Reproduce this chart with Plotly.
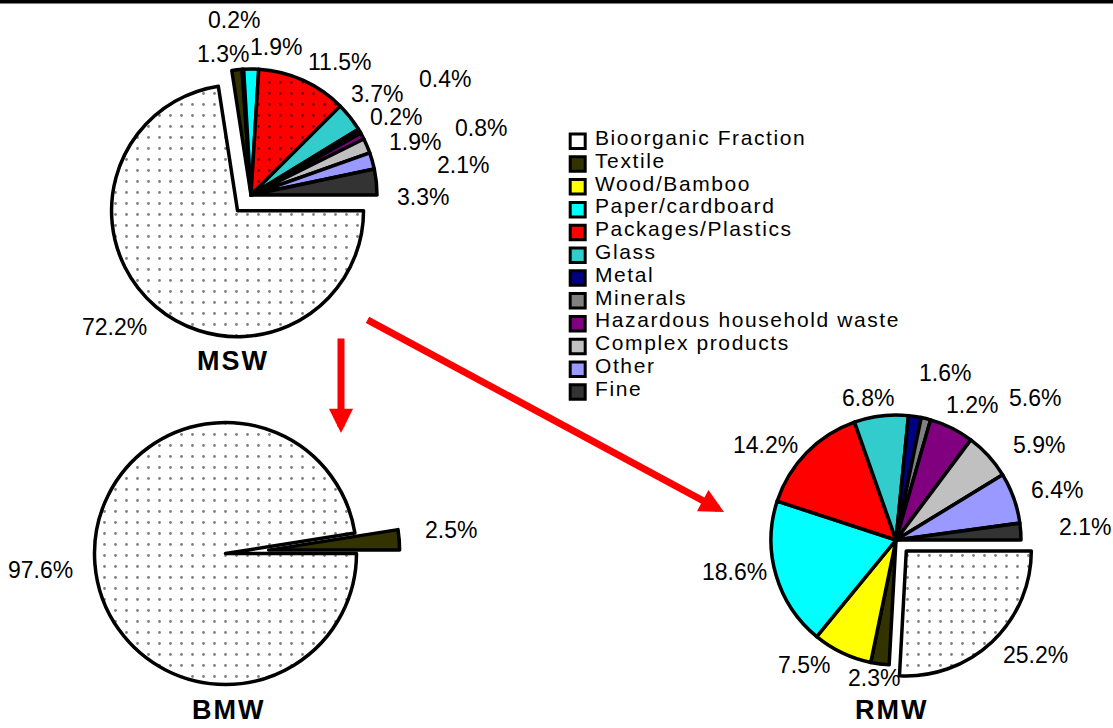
import plotly.graph_objects as go

W, H = 1113, 728

# ---------------- data ----------------
CATEGORIES = [
    "Bioorganic Fraction", "Textile", "Wood/Bamboo", "Paper/cardboard",
    "Packages/Plastics", "Glass", "Metal", "Minerals",
    "Hazardous household waste", "Complex products", "Other", "Fine",
]
MSW_VALUES = [72.2, 1.3, 0.2, 1.9, 11.5, 3.7, 0.4, 0.2, 0.8, 1.9, 2.1, 3.3]
BMW_CATEGORIES = ["Bioorganic Fraction", "Textile"]
BMW_VALUES = [97.6, 2.5]
RMW_VALUES = [25.2, 2.3, 7.5, 18.6, 14.2, 6.8, 1.6, 1.2, 5.6, 5.9, 6.4, 2.1]
PIE_TITLES = ["MSW", "BMW", "RMW"]

# ---------------- styles ----------------
COLORS = ["#FFFFFF", "#333300", "#FFFF00", "#00FFFF", "#FF0000", "#33CCCC",
          "#000080", "#808080", "#800080", "#C0C0C0", "#9999FF", "#333333"]
BMW_COLORS = ["#FFFFFF", "#333300"]
MSW_PATTERN = [".", "", "", "", ".", "", "", "", "", "", "", ""]
RMW_PATTERN = [".", "", "", "", "", "", "", "", "", "", "", ""]
BMW_PATTERN = [".", ""]

# layout (pixels): pie centre, radius, pull
MSW_GEOM = dict(cx=251, cy=195, r=126, pull=0.164)
BMW_GEOM = dict(cx=225.5, cy=553.5, r=131, pull=0.33)
RMW_GEOM = dict(cx=896, cy=540, r=125, pull=0.12)

# percentage label positions (pixels), one per slice
MSW_LABEL_POS = [(114, 327), (223, 54), (233.5, 20), (276, 47.5), (340, 62),
                 (377.5, 94), (444.5, 79), (395.5, 117.5), (480.5, 127.5),
                 (414.5, 142.5), (462.5, 165), (422.5, 197.5)]
BMW_LABEL_POS = [(40, 570), (451, 530)]
RMW_LABEL_POS = [(1035.7, 655), (874, 678), (804, 665), (734.7, 571.7),
                 (765.5, 445), (868, 398), (945, 373), (972, 405),
                 (1035, 398), (1039, 445), (1057, 490), (1084.5, 527)]
TITLE_POS = [(233, 361), (228.5, 710), (891, 710)]

FONT = "Liberation Sans, Arial, sans-serif"


def px(x):
    return x / W


def py(y):
    return 1 - y / H


def domain(g):
    hs = g["r"] * (1 + g["pull"])
    return dict(x=[px(g["cx"] - hs), px(g["cx"] + hs)],
                y=[py(g["cy"] + hs), py(g["cy"] - hs)])


def make_pie(labels, values, colors, pattern, g, pulled_index):
    pulls = [0.0] * len(values)
    pulls[pulled_index] = g["pull"]
    return go.Pie(
        labels=labels, values=values, sort=False, direction="clockwise",
        rotation=90, pull=pulls, textinfo="none", showlegend=False,
        hoverinfo="label+value",
        marker=dict(colors=colors, line=dict(color="black", width=3.5),
                    pattern=dict(shape=pattern, fillmode="overlay",
                                 fgcolor="black", size=11, solidity=0.05)),
        domain=domain(g),
    )


fig = go.Figure()
fig.add_trace(make_pie(CATEGORIES, MSW_VALUES, COLORS, MSW_PATTERN, MSW_GEOM, 0))
fig.add_trace(make_pie(BMW_CATEGORIES, BMW_VALUES, BMW_COLORS, BMW_PATTERN, BMW_GEOM, 1))
fig.add_trace(make_pie(CATEGORIES, RMW_VALUES, COLORS, RMW_PATTERN, RMW_GEOM, 0))

annotations = []
shapes = []

# percentage labels
for vals, pos in [(MSW_VALUES, MSW_LABEL_POS), (BMW_VALUES, BMW_LABEL_POS),
                  (RMW_VALUES, RMW_LABEL_POS)]:
    for v, (x, y) in zip(vals, pos):
        annotations.append(dict(
            x=px(x), y=py(y), xref="paper", yref="paper", text=f"{v:.1f}%",
            showarrow=False, xanchor="center", yanchor="middle",
            font=dict(family=FONT, size=23, color="black")))

# pie titles
for t, (x, y) in zip(PIE_TITLES, TITLE_POS):
    annotations.append(dict(
        x=px(x), y=py(y), xref="paper", yref="paper",
        text=f'<b><span style="letter-spacing:2px">{t}</span></b>',
        showarrow=False, xanchor="center", yanchor="middle",
        font=dict(family=FONT, size=27, color="black")))

# custom legend
LEG_X_BOX, LEG_X_TEXT, LEG_Y0, LEG_DY = 577.7, 593, 137.5, 22.8
for i, (cat, col) in enumerate(zip(CATEGORIES, COLORS)):
    yc = LEG_Y0 + LEG_DY * i
    shapes.append(dict(
        type="rect", xref="paper", yref="paper",
        x0=px(LEG_X_BOX - 7.5), x1=px(LEG_X_BOX + 7.5),
        y0=py(yc + 11), y1=py(yc - 3.5),
        fillcolor=col, line=dict(color="black", width=3)))
    annotations.append(dict(
        x=px(LEG_X_TEXT), y=py(yc), xref="paper", yref="paper",
        text=f'<span style="letter-spacing:1.6px">{cat}</span>',
        showarrow=False, xanchor="left", yanchor="middle",
        font=dict(family=FONT, size=21, color="black")))

# red arrows MSW -> BMW and MSW -> RMW
ARROWS = [((341, 337), (341, 433)), ((366, 319), (724, 512))]
for (tx, ty), (hx, hy) in ARROWS:
    annotations.append(dict(
        x=px(hx), y=py(hy), xref="paper", yref="paper",
        ax=tx - hx, ay=ty - hy, axref="pixel", ayref="pixel",
        text="", showarrow=True, arrowhead=2, arrowwidth=7,
        arrowsize=0.69, arrowcolor="#FF0000"))

# top rule
shapes.append(dict(type="rect", xref="paper", yref="paper",
                   x0=0, x1=1, y0=py(3.5), y1=1,
                   fillcolor="black", line=dict(width=0)))

fig.update_layout(
    width=W, height=H, margin=dict(l=0, r=0, t=0, b=0, pad=0),
    paper_bgcolor="white", plot_bgcolor="white", showlegend=False,
    annotations=annotations, shapes=shapes,
    font=dict(family=FONT, color="black"),
)

fig.write_html("out.html")
